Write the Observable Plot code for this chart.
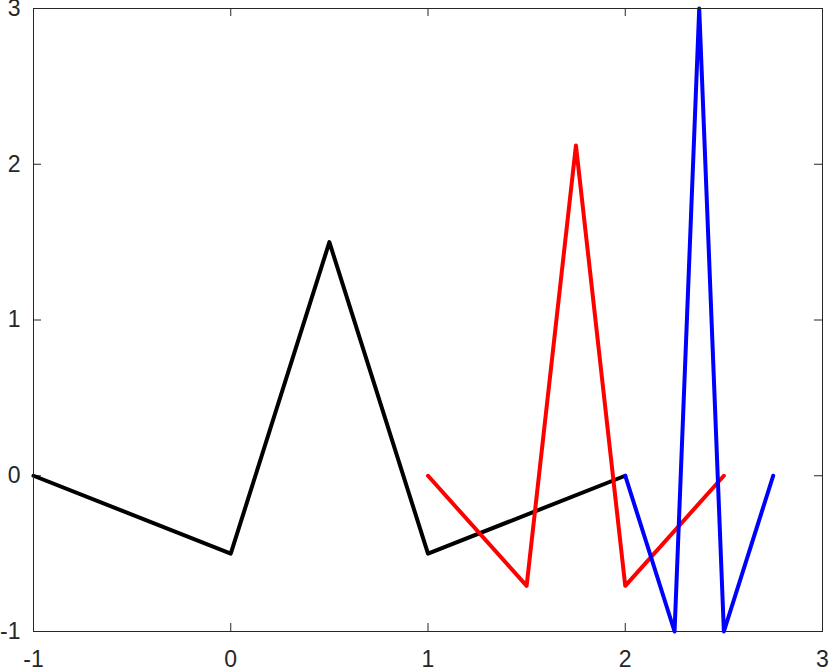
<!DOCTYPE html>
<html>
<head>
<meta charset="utf-8">
<script src="https://cdn.jsdelivr.net/npm/d3@7"></script>
<script src="https://cdn.jsdelivr.net/npm/@observablehq/plot@0.6"></script>
<style>
  html, body { margin: 0; padding: 0; background: #fff; }
  #chart svg { display: block; }
</style>
</head>
<body>
<div id="chart"></div>
<script>
// Series values (x, y)
const blackX = [-1, 0, 0.5, 1, 2];
const blackY = [0, -0.5, 1.5, -0.5, 0];
const redX = [1, 1.5, 1.75, 2, 2.5];
const redY = [0, -0.707, 2.121, -0.707, 0];
const blueX = [2, 2.25, 2.375, 2.5, 2.75];
const blueY = [0, -1, 3, -1, 0];
const seriesNames = ["black", "red", "blue"];
const seriesColors = ["#000000", "#ff0000", "#0000ff"];

// Tick labels
const xTicks = [-1, 0, 1, 2, 3];
const yTicks = [-1, 0, 1, 2, 3];

const seriesList = [
  {name: "black", xs: blackX, ys: blackY},
  {name: "red", xs: redX, ys: redY},
  {name: "blue", xs: blueX, ys: blueY}
];
const data = seriesList.flatMap(s => s.xs.map((x, i) => ({series: s.name, x, y: s.ys[i]})));

const W = 830, H = 670;
const mL = 33, mR = 8, mT = 8, mB = 39;
const frameH = H - mT - mB;
const frameW = W - mL - mR;
const tickLen = 8;
const axisColor = "#262626";
const font = "'Liberation Sans', Arial, Helvetica, sans-serif";

const chart = Plot.plot({
  width: W,
  height: H,
  marginLeft: mL,
  marginRight: mR,
  marginTop: mT,
  marginBottom: mB,
  style: {fontFamily: font, fontSize: "23px", color: axisColor, background: "#fff", overflow: "visible"},
  x: {domain: [-1, 3]},
  y: {domain: [-1, 3]},
  color: {domain: seriesNames, range: seriesColors},
  marks: [
    Plot.axisX(xTicks, {tickSize: 0, tickPadding: 19, label: null, fontSize: 23, tickFormat: d => String(d)}),
    Plot.axisY(yTicks, {tickSize: 0, tickPadding: 13, label: null, fontSize: 23, tickFormat: d => String(d)}),
    // inward ticks on all four sides
    Plot.tickX(xTicks, {x: d => d, insetTop: frameH - tickLen, stroke: axisColor, strokeWidth: 1}),
    Plot.tickX(xTicks, {x: d => d, insetBottom: frameH - tickLen, stroke: axisColor, strokeWidth: 1}),
    Plot.tickY(yTicks, {y: d => d, insetRight: frameW - tickLen, stroke: axisColor, strokeWidth: 1}),
    Plot.tickY(yTicks, {y: d => d, insetLeft: frameW - tickLen, stroke: axisColor, strokeWidth: 1}),
    Plot.line(data, {x: "x", y: "y", z: "series", stroke: "series", strokeWidth: 4, strokeLinejoin: "round", strokeLinecap: "round"}),
    Plot.frame({stroke: axisColor, strokeWidth: 1})
  ]
});
document.getElementById("chart").appendChild(chart);
</script>
</body>
</html>
